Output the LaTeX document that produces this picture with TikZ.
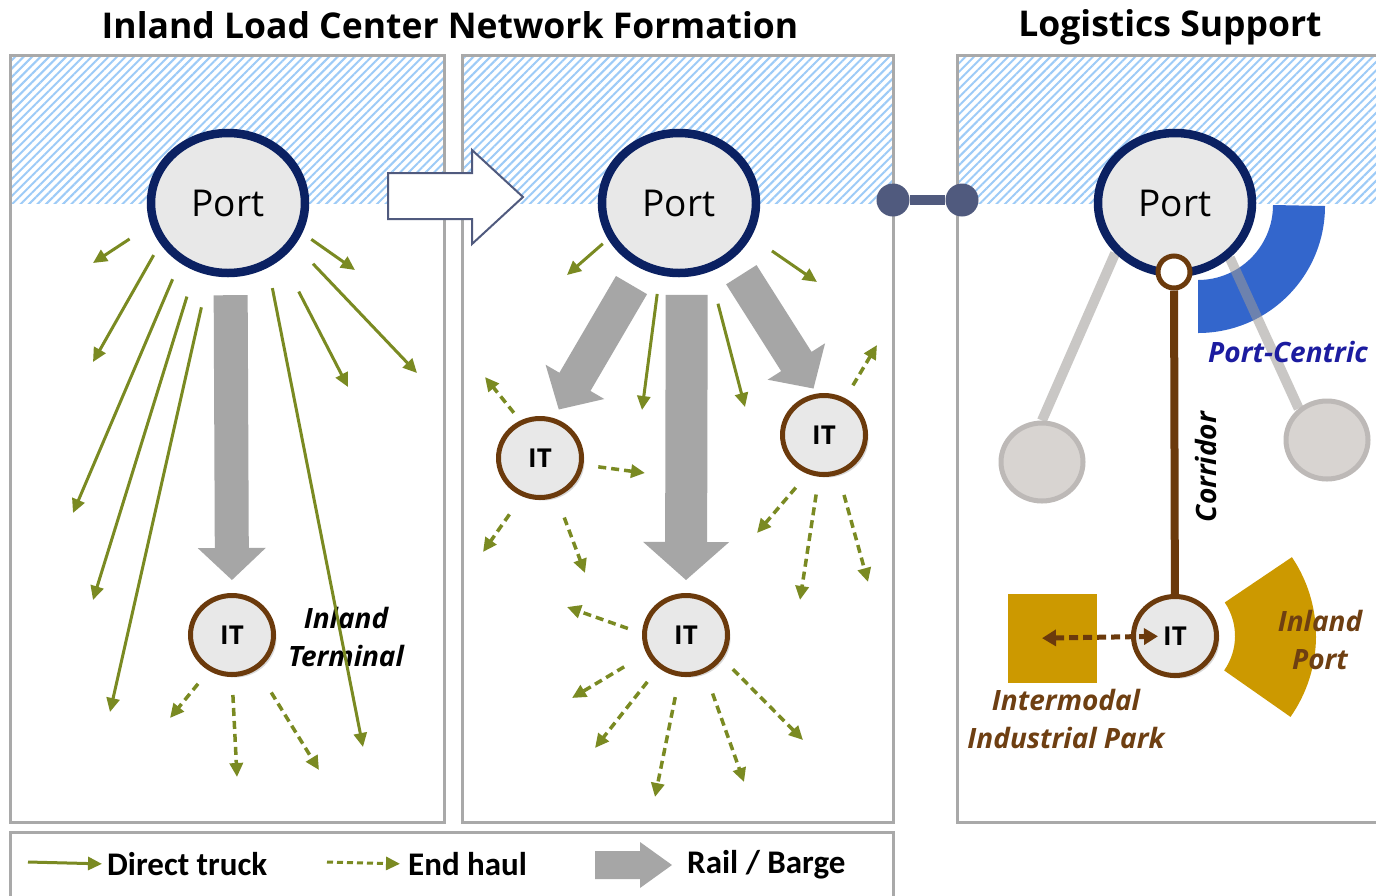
\documentclass[tikz,border=0pt]{standalone}
\usepackage{fontspec}
\setmainfont{Open Sans}
\newfontfamily\legendfont{Carlito}
\usetikzlibrary{calc,positioning,shapes.geometric,arrows.meta,patterns.meta,shadows}

\definecolor{portnavy}{HTML}{0B2162}
\definecolor{portfill}{HTML}{E8E8E8}
\definecolor{itbrown}{HTML}{6B3A0C}
\definecolor{truckgreen}{HTML}{7A8A22}
\definecolor{railgray}{HTML}{A6A6A6}
\definecolor{panelgray}{HTML}{A9A9A9}
\definecolor{hatchblue}{HTML}{9DCBF7}
\definecolor{linkslate}{HTML}{505A7E}
\definecolor{pcblue}{HTML}{3366CC}
\definecolor{pctext}{HTML}{1C1CA0}
\definecolor{ipgold}{HTML}{CC9900}
\definecolor{spokegray}{HTML}{9E9996}
\definecolor{satfill}{HTML}{D8D4D1}
\definecolor{satedge}{HTML}{BDB9B7}
\definecolor{labelbrown}{HTML}{6E3F12}

\pgfdeclarelayer{background}
\pgfsetlayers{background,main}

% block arrow: half shaft, half head, head length, from, to
\def\railarrow#1#2#3#4#5{\path (#4) coordinate (ra) (#5) coordinate (rb) ($(rb)!#3!(ra)$) coordinate (rh);
	\fill[railgray] ($(ra)!#1!90:(rb)$) -- ($(rh)!#1!90:(rb)$) -- ($(rh)!#2!90:(rb)$) -- (rb)
	-- ($(rh)!#2!-90:(rb)$) -- ($(rh)!#1!-90:(rb)$) -- ($(ra)!#1!-90:(rb)$) -- cycle;}

\begin{document}
\begin{tikzpicture}[x=1pt, y=-1pt,
	truck/.style={truckgreen, line width=3pt, -{Triangle[length=14pt,width=13pt]}},
	haul/.style={truck, dash pattern=on 8pt off 5pt, line width=3.5pt},
	port/.style={ellipse, draw=portnavy, line width=8.5pt, fill=portfill, minimum width=154pt, minimum height=140pt, inner sep=0pt,
		font=\fontsize{37}{42}\selectfont, drop shadow={shadow xshift=3pt, shadow yshift=-3pt, opacity=.3}},
	itnode/.style={ellipse, draw=itbrown, line width=5pt, fill=portfill, minimum width=83pt, minimum height=79pt, inner sep=0pt,
		font=\fontsize{26}{30}\selectfont\bfseries, drop shadow={shadow xshift=3pt, shadow yshift=-3pt, opacity=.3}},
	satellite/.style={ellipse, draw=satedge, line width=5pt, fill=satfill, minimum width=82pt, minimum height=78pt},
	spoke/.style={spokegray, line width=10pt, opacity=.55},
	panel/.style={draw=panelgray, line width=3pt},
	hatch/.style={pattern={Lines[angle=45,distance=6pt,line width=2pt]}, pattern color=hatchblue},
	lbl/.style={font=\fontsize{28}{38}\selectfont\bfseries\itshape, align=center, inner sep=0pt},
	ttl/.style={font=\fontsize{35.5}{38}\selectfont\bfseries},
	lgd/.style={font=\legendfont\bfseries\fontsize{33}{36}\selectfont, anchor=west, inner sep=0pt}]
	%%%%% START %%%%%
	\useasboundingbox (0,0) rectangle (1376,895);
	
	\node[ttl] (ttl1) at (450,25) {Inland Load Center Network Formation};
	\node[ttl] (ttl2) at (1170,27) {Logistics Support};
	
	\fill[hatch] (11,57) rectangle (443,203);
	\fill[hatch] (463,57) rectangle (892,203);
	\fill[hatch] (958,57) rectangle (1400,203);
	\draw[panel] (10,55) rectangle (444,822);
	\draw[panel] (462,55) rectangle (893,822);
	\draw[panel] (957,55) rectangle (1400,822);
	\draw[panel] (10,832) rectangle (893,920);
	
	\draw[linkslate, line width=2pt, fill=white] (388,173) -- (472,173) -- (472,150) -- (523,197) -- (472,244) -- (472,219) -- (388,219) -- cycle;
	
	\node[circle, fill=linkslate, minimum size=33pt, inner sep=0pt] (lk1) at (893,200) {};
	\node[circle, fill=linkslate, minimum size=33pt, inner sep=0pt] (lk2) at (962,200) {};
	\draw[linkslate, line width=10pt] (lk1) -- (lk2);
	
	\node[port] (P1) at (228,203) {Port};
	\node[port] (P2) at (679,203) {Port};
	\node[port] (P3) at (1175,203) {Port};
	
	\node[itnode] (IT1) at (232,635) {IT};
	\node[itnode] (ITL) at (540,458) {IT};
	\node[itnode] (ITR) at (824,435) {IT};
	\node[itnode] (ITB) at (686,635) {IT};
	\node[itnode] (IT3) at (1175,636) {IT};
	
	\node[satellite] (GL) at (1042,462) {};
	\node[satellite] (GR) at (1327,440) {};
	\node[fill=ipgold, minimum size=89pt, inner sep=0pt] (park) at (1052,638) {};
	
	\begin{pgfonlayer}{background}
		\fill[white] (0,0) rectangle (1376,895);
		\fill[pcblue] (1273,205) arc[start angle=0, end angle=90, radius=75] -- (1198,333) arc[start angle=90, end angle=0, radius=127] -- cycle;
		\fill[ipgold] ($(IT3.center)+(-34:60)$) arc[start angle=-34, end angle=35, radius=60] -- ($(IT3.center)+(35:141)$) arc[start angle=35, end angle=-34, radius=141] -- cycle;
		\draw[spoke] (P3.-140) -- (GL.north);
		\draw[spoke] (P3.-45) -- (GR.132);
	\end{pgfonlayer}
	
	\node[lbl] (lblterm) at (346,637) {Inland\\Terminal};
	\node[lbl, text=pctext] (lblpc) at (1288,352) {Port-Centric};
	\node[lbl, rotate=90] (lblcorr) at (1206,467) {Corridor};
	\node[lbl, text=labelbrown] (lblip) at (1320,640) {Inland\\Port};
	\node[lbl, text=labelbrown] (lblpark) at (1066,719) {Intermodal\\Industrial Park};
	
	% rail / barge
	\railarrow{17pt}{34pt}{32pt}{$(P1.-88)!18pt!(IT1.90)$}{$(IT1.90)!13pt!(P1.-88)$}
	\railarrow{21pt}{43pt}{38pt}{$(P2.-84)!18pt!(ITB.90)$}{$(ITB.90)!13pt!(P2.-84)$}
	\railarrow{18pt}{34pt}{32pt}{$(P2.-120)!19pt!(ITL.71)$}{$(ITL.71)!10pt!(P2.-120)$}
	\railarrow{18pt}{34pt}{32pt}{$(P2.-47)!18pt!(ITR.100)$}{$(ITR.100)!6pt!(P2.-47)$}
	
	% direct truck
	\coordinate (tr1) at (93,263);
	\coordinate (tr2) at (93,362);
	\coordinate (tr3) at (73,513);
	\coordinate (tr4) at (93,600);
	\coordinate (tr5) at (110,712);
	\coordinate (tr6) at (355,270);
	\coordinate (tr7) at (417,373);
	\coordinate (tr8) at (348,387);
	\coordinate (tr9) at (363,747);
	\coordinate (tr10) at (567,275);
	\coordinate (tr11) at (817,282);
	\coordinate (tr12) at (642,410);
	\coordinate (tr13) at (745,407);
	\draw[truck, shorten <=25pt] (P1.-164) -- (tr1);
	\draw[truck, shorten <=13pt] (P1.-149) -- (tr2);
	\draw[truck, shorten <=18pt] (P1.-129) -- (tr3);
	\draw[truck, shorten <=27pt] (P1.-116) -- (tr4);
	\draw[truck, shorten <=33pt] (P1.-105) -- (tr5);
	\draw[truck, shorten <=11pt] (P1.-22) -- (tr6);
	\draw[truck, shorten <=26pt] (P1.-32) -- (tr7);
	\draw[truck, shorten <=37pt] (P1.-46) -- (tr8);
	\draw[truck, shorten <=21pt] (P1.-58) -- (tr9);
	\draw[truck, shorten <=7pt] (P2.-153) -- (tr10);
	\draw[truck, shorten <=25pt] (P2.-25) -- (tr11);
	\draw[truck, shorten <=19pt] (P2.-105) -- (tr12);
	\draw[truck, shorten <=33pt] (P2.-66) -- (tr13);
	
	% end haul
	\coordinate (eh1) at (170,718);
	\coordinate (eh2) at (237,777);
	\coordinate (eh3) at (319,770);
	\coordinate (eh4) at (485,377);
	\coordinate (eh5) at (645,473);
	\coordinate (eh6) at (483,552);
	\coordinate (eh7) at (585,573);
	\coordinate (eh8) at (877,345);
	\coordinate (eh9) at (757,533);
	\coordinate (eh10) at (800,600);
	\coordinate (eh11) at (868,582);
	\coordinate (eh12) at (567,607);
	\coordinate (eh13) at (572,698);
	\coordinate (eh14) at (595,748);
	\coordinate (eh15) at (655,797);
	\coordinate (eh16) at (744,782);
	\coordinate (eh17) at (803,740);
	\draw[haul, shorten <=17pt] (IT1.-123) -- (eh1);
	\draw[haul, shorten <=18pt] (IT1.-90) -- (eh2);
	\draw[haul, shorten <=27pt] (IT1.-54) -- (eh3);
	\draw[haul, shorten <=10pt] (ITL.118) -- (eh4);
	\draw[haul, shorten <=15pt] (ITL.-9) -- (eh5);
	\draw[haul, shorten <=22pt] (ITL.-115) -- (eh6);
	\draw[haul, shorten <=22pt] (ITL.-67) -- (eh7);
	\draw[haul, shorten <=15pt] (ITR.60) -- (eh8);
	\draw[haul, shorten <=18pt] (ITR.-113) -- (eh9);
	\draw[haul, shorten <=18pt] (ITR.-97) -- (eh10);
	\draw[haul, shorten <=21pt] (ITR.-70) -- (eh11);
	\draw[haul, shorten <=15pt] (ITB.178) -- (eh12);
	\draw[haul, shorten <=26pt] (ITB.-155) -- (eh13);
	\draw[haul, shorten <=18pt] (ITB.-130) -- (eh14);
	\draw[haul, shorten <=21pt] (ITB.-99) -- (eh15);
	\draw[haul, shorten <=22pt] (ITB.-63) -- (eh16);
	\draw[haul, shorten <=15pt] (ITB.-33) -- (eh17);
	
	% corridor
	\node[circle, draw=itbrown, line width=5pt, fill=white, minimum size=32pt, inner sep=0pt] (ring) at (1174,272) {};
	\draw[itbrown, line width=8pt] (ring) -- (IT3);
	\draw[itbrown, line width=5pt, dash pattern=on 9pt off 5pt, {Triangle[length=14pt,width=16pt]}-{Triangle[length=14pt,width=16pt]}]
		($(park.center)!-10pt!(IT3.center)$) -- ($(IT3.center)!17pt!(park.center)$);
	
	% legend
	\node[lgd] (lgtruck) at (107,864) {Direct truck};
	\node[lgd] (lghaul) at (408,864) {End haul};
	\node[lgd] (lgrail) at (687,865) {Rail / Barge};
	\coordinate (lg1) at (28,862);
	\coordinate (lg2) at (327,862);
	\coordinate (lg3) at (595,865);
	\draw[truck, shorten >=5pt] (lg1) -- (lgtruck.west);
	\draw[haul, line width=3pt, dash pattern=on 6pt off 4pt, shorten >=8pt] (lg2) -- (lghaul.west);
	\railarrow{14pt}{23pt}{32pt}{lg3}{$(lgrail.west)!15pt!(lg3)$}
	%%%%% END %%%%%
\end{tikzpicture}
\end{document}
